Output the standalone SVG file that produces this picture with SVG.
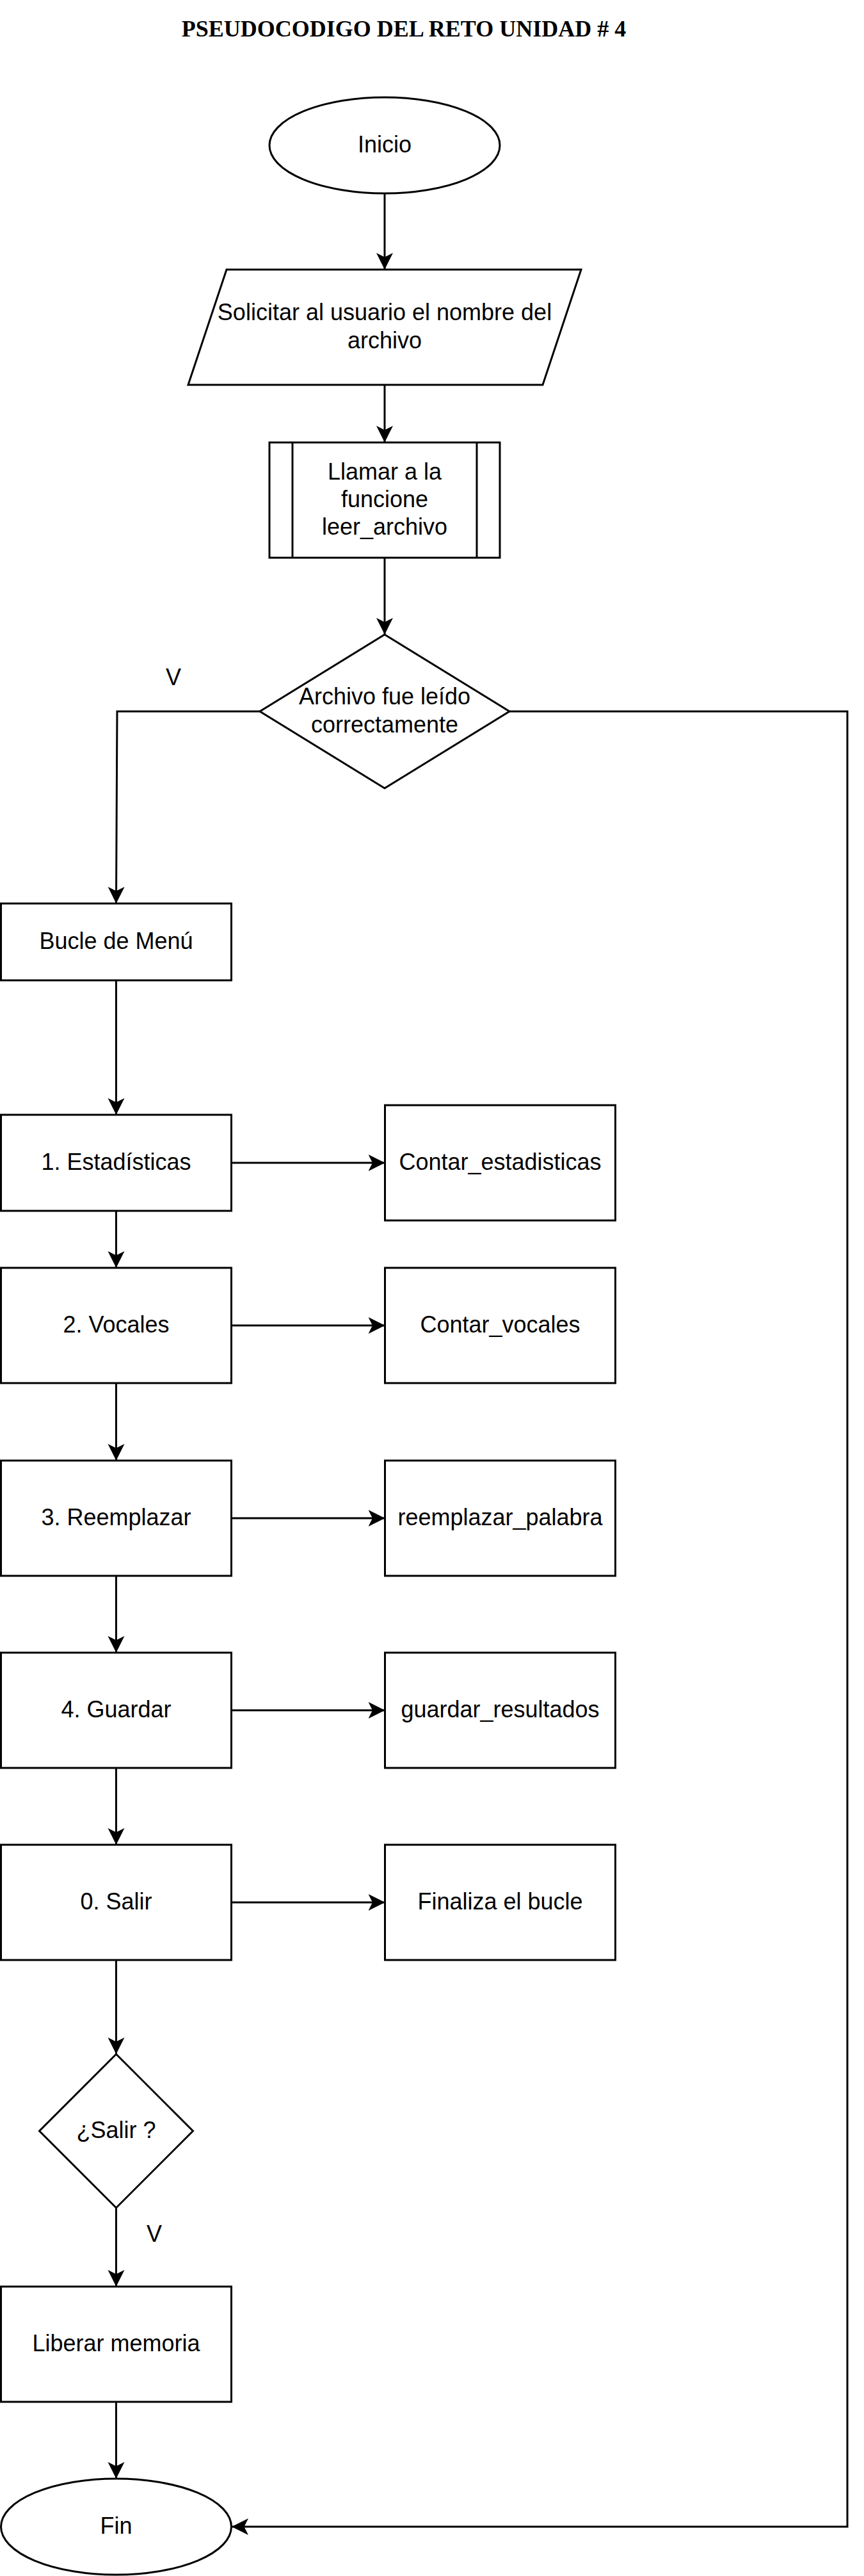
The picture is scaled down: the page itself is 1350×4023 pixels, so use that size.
<svg xmlns="http://www.w3.org/2000/svg" width="1350" height="4023" viewBox="0 0 1350 4023">
<style>
.s{fill:#ffffff;stroke:#000000;stroke-width:3}
.c{fill:none;stroke:#000000;stroke-width:3;marker-end:url(#arr)}
.t{font-family:"Liberation Sans",Arial,sans-serif;font-size:36px;fill:#000000;text-anchor:middle}
.title{font-family:"Liberation Serif","Times New Roman",serif;font-size:36px;font-weight:bold;fill:#000000;text-anchor:middle}
</style>
<defs>
<marker id="arr" markerUnits="userSpaceOnUse" markerWidth="28" markerHeight="28" refX="26" refY="13" orient="auto" viewBox="0 0 28 26">
<path d="M26,13 L0,0 L6.5,13 L0,26 Z" fill="#000000"/>
</marker>
</defs>
<rect x="0" y="0" width="1350" height="4023" fill="#ffffff"/>
<text class="title" x="631" y="57">PSEUDOCODIGO DEL RETO UNIDAD # 4</text>

<g id="connectors">
<line class="c" x1="601" y1="302" x2="601" y2="421"/>
<line class="c" x1="601" y1="601" x2="601" y2="691"/>
<line class="c" x1="601" y1="871" x2="601" y2="991"/>
<polyline class="c" points="406,1111 183,1111 181.5,1411"/>
<polyline class="c" points="796,1111 1324,1111 1324,3946 362,3946"/>
<line class="c" x1="181.5" y1="1531" x2="181.5" y2="1741"/>
<line class="c" x1="361.5" y1="1816" x2="601.5" y2="1816"/>
<line class="c" x1="181.5" y1="1891" x2="181.5" y2="1980"/>
<line class="c" x1="361.5" y1="2070" x2="601.5" y2="2070"/>
<line class="c" x1="181.5" y1="2160" x2="181.5" y2="2281"/>
<line class="c" x1="361.5" y1="2371" x2="601.5" y2="2371"/>
<line class="c" x1="181.5" y1="2461" x2="181.5" y2="2581"/>
<line class="c" x1="361.5" y1="2671" x2="601.5" y2="2671"/>
<line class="c" x1="181.5" y1="2761" x2="181.5" y2="2881"/>
<line class="c" x1="361.5" y1="2971" x2="601.5" y2="2971"/>
<line class="c" x1="181.5" y1="3061" x2="181.5" y2="3208"/>
<line class="c" x1="181.5" y1="3448" x2="181.5" y2="3571"/>
<line class="c" x1="181.5" y1="3751" x2="181.5" y2="3871"/>
<text class="t" x="271" y="1070">V</text>
<text class="t" x="241" y="3501">V</text>
</g>

<g id="inicio">
<ellipse class="s" cx="601" cy="227" rx="180" ry="75"/>
<text class="t" x="601" y="238">Inicio</text>
</g>

<g id="solicitar">
<polygon class="s" points="354,421 908,421 848,601 294,601"/>
<text class="t" x="601" y="500">Solicitar al usuario el nombre del</text>
<text class="t" x="601" y="544">archivo</text>
</g>

<g id="leer">
<rect class="s" x="421" y="691" width="360" height="180"/>
<line class="s" x1="457" y1="691" x2="457" y2="871"/>
<line class="s" x1="745" y1="691" x2="745" y2="871"/>
<text class="t" x="601" y="749">Llamar a la</text>
<text class="t" x="601" y="792">funcione</text>
<text class="t" x="601" y="835">leer_archivo</text>
</g>

<g id="decision1">
<polygon class="s" points="601,991 796,1111 601,1231 406,1111"/>
<text class="t" x="601" y="1100">Archivo fue leído</text>
<text class="t" x="601" y="1144">correctamente</text>
</g>

<g id="bucle">
<rect class="s" x="1.5" y="1411" width="360" height="120"/>
<text class="t" x="181.5" y="1482">Bucle de Menú</text>
</g>

<g id="op1">
<rect class="s" x="1.5" y="1741" width="360" height="150"/>
<text class="t" x="181.5" y="1827">1. Estadísticas</text>
</g>
<g id="f1">
<rect class="s" x="601.5" y="1726" width="360" height="180"/>
<text class="t" x="781.5" y="1827">Contar_estadisticas</text>
</g>

<g id="op2">
<rect class="s" x="1.5" y="1980" width="360" height="180"/>
<text class="t" x="181.5" y="2081">2. Vocales</text>
</g>
<g id="f2">
<rect class="s" x="601.5" y="1980" width="360" height="180"/>
<text class="t" x="781.5" y="2081">Contar_vocales</text>
</g>

<g id="op3">
<rect class="s" x="1.5" y="2281" width="360" height="180"/>
<text class="t" x="181.5" y="2382">3. Reemplazar</text>
</g>
<g id="f3">
<rect class="s" x="601.5" y="2281" width="360" height="180"/>
<text class="t" x="781.5" y="2382">reemplazar_palabra</text>
</g>

<g id="op4">
<rect class="s" x="1.5" y="2581" width="360" height="180"/>
<text class="t" x="181.5" y="2682">4. Guardar</text>
</g>
<g id="f4">
<rect class="s" x="601.5" y="2581" width="360" height="180"/>
<text class="t" x="781.5" y="2682">guardar_resultados</text>
</g>

<g id="op0">
<rect class="s" x="1.5" y="2881" width="360" height="180"/>
<text class="t" x="181.5" y="2982">0. Salir</text>
</g>
<g id="f0">
<rect class="s" x="601.5" y="2881" width="360" height="180"/>
<text class="t" x="781.5" y="2982">Finaliza el bucle</text>
</g>

<g id="decision2">
<polygon class="s" points="181.5,3208 301.5,3328 181.5,3448 61.5,3328"/>
<text class="t" x="181.5" y="3339">¿Salir ?</text>
</g>

<g id="liberar">
<rect class="s" x="1.5" y="3571" width="360" height="180"/>
<text class="t" x="181.5" y="3672">Liberar memoria</text>
</g>

<g id="fin">
<ellipse class="s" cx="181.5" cy="3946" rx="180" ry="75"/>
<text class="t" x="181.5" y="3957">Fin</text>
</g>
</svg>
